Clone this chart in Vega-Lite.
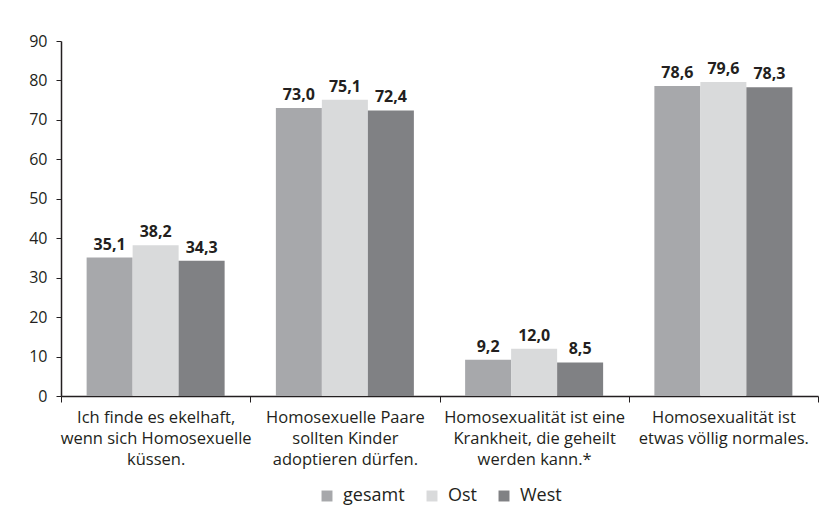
{
  "$schema": "https://vega.github.io/schema/vega-lite/v6.json",
  "width": 757,
  "height": 355,
  "autosize": {"type": "none"},
  "padding": {"left": 61, "top": 41, "right": 13, "bottom": 128},
  "background": "white",
  "config": {
    "font": "Open Sans",
    "view": {"stroke": null},
    "legend": {"layout": {"bottom": {"anchor": "middle"}}},
    "locale": {"number": {"decimal": ",", "thousands": ".", "grouping": [3], "currency": ["", " €"]}}
  },
  "data": {
    "values": [
      {"kat": "Ich finde es ekelhaft,|wenn sich Homosexuelle|küssen.", "gruppe": "gesamt", "wert": 35.1},
      {"kat": "Ich finde es ekelhaft,|wenn sich Homosexuelle|küssen.", "gruppe": "Ost", "wert": 38.2},
      {"kat": "Ich finde es ekelhaft,|wenn sich Homosexuelle|küssen.", "gruppe": "West", "wert": 34.3},
      {"kat": "Homosexuelle Paare|sollten Kinder|adoptieren dürfen.", "gruppe": "gesamt", "wert": 73.0},
      {"kat": "Homosexuelle Paare|sollten Kinder|adoptieren dürfen.", "gruppe": "Ost", "wert": 75.1},
      {"kat": "Homosexuelle Paare|sollten Kinder|adoptieren dürfen.", "gruppe": "West", "wert": 72.4},
      {"kat": "Homosexualität ist eine|Krankheit, die geheilt|werden kann.*", "gruppe": "gesamt", "wert": 9.2},
      {"kat": "Homosexualität ist eine|Krankheit, die geheilt|werden kann.*", "gruppe": "Ost", "wert": 12.0},
      {"kat": "Homosexualität ist eine|Krankheit, die geheilt|werden kann.*", "gruppe": "West", "wert": 8.5},
      {"kat": "Homosexualität ist|etwas völlig normales.", "gruppe": "gesamt", "wert": 78.6},
      {"kat": "Homosexualität ist|etwas völlig normales.", "gruppe": "Ost", "wert": 79.6},
      {"kat": "Homosexualität ist|etwas völlig normales.", "gruppe": "West", "wert": 78.3}
    ]
  },
  "encoding": {
    "x": {
      "field": "kat", "type": "nominal", "sort": null, "title": null,
      "scale": {"paddingInner": 0, "paddingOuter": 0},
      "axis": {
        "labelExpr": "split(datum.label, '|')",
        "labelAngle": 0, "labelFontSize": 16.5, "labelColor": "#231f20", "labelLimit": 0,
        "labelLineHeight": 21, "labelPadding": 7,
        "tickBand": "extent", "tickSize": 6, "tickColor": "#231f20",
        "domainColor": "#231f20", "domainWidth": 1.5
      }
    },
    "xOffset": {"field": "gruppe", "type": "nominal", "sort": ["gesamt", "Ost", "West"], "scale": {"paddingInner": 0, "paddingOuter": 0.557}},
    "y": {"field": "wert", "type": "quantitative", "title": null,
      "scale": {"domain": [0, 90], "nice": false},
      "axis": {"values": [0,10,20,30,40,50,60,70,80,90], "grid": false, "tickSize": 5, "tickColor": "#231f20",
        "domainColor": "#231f20", "domainWidth": 1.5, "labelFontSize": 16, "labelColor": "#231f20", "labelPadding": 9}}
  },
  "layer": [
    {
      "mark": {"type": "bar"},
      "encoding": {
        "color": {
          "field": "gruppe", "type": "nominal", "sort": ["gesamt", "Ost", "West"],
          "scale": {"domain": ["gesamt", "Ost", "West"], "range": ["#a7a8ab", "#d9dadb", "#808184"]},
          "legend": {"title": null, "orient": "bottom", "direction": "horizontal", "symbolType": "square",
            "symbolSize": 120, "symbolStrokeWidth": 0, "labelFontSize": 18, "labelColor": "#231f20", "columnPadding": 18, "labelOffset": 7, "offset": 19}
        }
      }
    },
    {
      "mark": {"type": "text", "baseline": "bottom", "dy": -5, "fontWeight": "bold", "fontSize": 16, "color": "#231f20"},
      "encoding": {"text": {"field": "wert", "type": "quantitative", "format": ".1f"}}
    }
  ]
}
